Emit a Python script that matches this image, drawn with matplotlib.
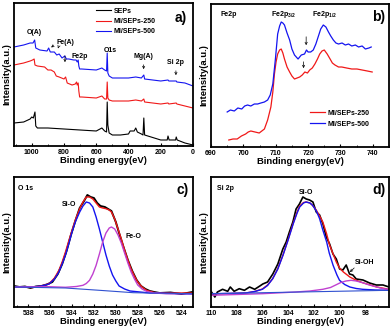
import matplotlib
matplotlib.use('Agg')
import matplotlib.pyplot as plt
from matplotlib.ticker import MultipleLocator

plt.rcParams['font.family'] = ['Liberation Sans', 'DejaVu Sans']
plt.rcParams['font.weight'] = 'bold'
plt.rcParams['mathtext.fontset'] = 'custom'
plt.rcParams['mathtext.bf'] = 'Liberation Sans:bold'
plt.rcParams['mathtext.rm'] = 'Liberation Sans:bold'
plt.rcParams['mathtext.default'] = 'bf'

# ---- panel a: survey spectra ----
sep_e = [1110, 1050, 1010, 1000, 990, 980, 975, 965, 900, 800, 700, 600, 565, 548, 536, 532, 528,
         520, 500, 450, 400, 390, 365, 355, 345, 320, 310, 305, 300, 280, 200, 160, 155, 148, 108,
         104, 98, 50, 0]
sep_i = [23, 24, 27, 29, 28, 34, 20, 18, 18, 17, 16, 15, 18, 15, 14, 44, 21,
         13, 11, 11, 12, 15, 15, 18, 14, 12, 11, 28, 11, 10, 6, 6, 10, 6, 6,
         9, 6, 3, 1]
mi250_e = [1110, 1050, 1010, 995, 985, 980, 965, 920, 900, 880, 860, 848, 830, 800, 790, 780, 750,
           730, 722, 718, 712, 708, 703, 690, 600, 565, 548, 536, 532, 528, 520, 500, 400, 355,
           320, 305, 300, 200, 155, 150, 104, 100, 50, 0]
mi250_i = [81, 83, 85, 86, 87, 81, 80, 79, 76, 76, 74, 70, 69, 67, 69, 63, 61,
           62, 64, 61, 63, 55, 49, 49, 48, 50, 47, 47, 64, 48, 46, 45, 45, 46,
           45, 47, 44, 42, 43, 42, 43, 42, 40, 38]
mi500_e = [1110, 1050, 1010, 992, 982, 975, 950, 905, 895, 885, 860, 845, 830, 812, 795, 785, 770,
           740, 725, 718, 712, 708, 703, 690, 600, 565, 548, 536, 532, 528, 520, 500, 400, 355,
           320, 305, 300, 200, 155, 150, 104, 100, 50, 0]
mi500_i = [99, 101, 103, 103, 106, 98, 96, 95, 98, 94, 94, 91, 92, 88, 90, 87, 87,
           86, 86, 84, 86, 80, 77, 77, 76, 78, 76, 75, 93, 73, 70, 68, 68, 69,
           68, 71, 67, 65, 66, 65, 65, 64, 63, 60]

# ---- panel b: Fe 2p ----
fe500_e = [695.0, 696.0, 697.2, 698.3, 699.5, 700.4, 701.3, 702.3, 703.4, 704.4, 705.4, 706.5, 707.5,
           708.3, 709.1, 709.9, 710.6, 711.2, 711.7, 712.2, 712.7, 713.5, 714.3, 715.0, 715.8,
           716.9, 717.9, 718.9, 719.5, 720.0, 720.8, 721.6, 722.4, 723.1, 723.9, 724.7, 725.5,
           726.3, 727.0, 727.8, 728.6, 729.4, 730.5, 731.5, 732.5, 733.5, 734.6, 735.6, 736.7,
           737.7, 738.8, 739.5]
fe500_i = [35, 37, 36, 39, 38, 41, 42, 41, 43, 43, 44, 45, 47,
           52, 63, 88, 113, 121, 125, 124, 122, 114, 107, 98, 92,
           88, 92, 93, 97, 95, 95, 97, 103, 110, 118, 122, 120,
           115, 111, 107, 104, 103, 104, 102, 103, 101, 102, 100, 101,
           98, 99, 100]
fe250_e = [695.5, 696.8, 698.1, 699.4, 700.7, 701.5, 702.3, 703.6, 704.9, 705.7, 706.5, 707.5, 708.5,
           709.1, 709.6, 710.1, 710.6, 711.2, 711.7, 712.2, 712.7, 713.5, 714.3, 715.0, 715.8,
           716.6, 717.4, 718.2, 719.0, 719.8, 720.5, 721.3, 722.1, 722.9, 723.6, 724.3, 725.0,
           725.9, 726.8, 727.5, 728.3, 729.4, 730.4, 731.9, 733.5, 735.1, 736.7, 738.3, 739.8]
fe250_i = [7, 8, 8, 11, 13, 15, 16, 15, 14, 16, 18, 27, 40,
           55, 73, 85, 93, 97, 98, 94, 88, 80, 75, 71, 68,
           69, 70, 72, 75, 74, 77, 79, 83, 88, 93, 96, 97,
           93, 88, 84, 82, 80, 80, 79, 78, 78, 77, 76, 75]

# ---- panel c: O 1s ----
o1s_raw_e = [539.3, 538.8, 538.3, 537.8, 537.3, 536.8, 536.3, 535.8, 535.3, 534.9, 534.5, 534.1,
             533.7, 533.3, 532.9, 532.6, 532.3, 532.0, 531.7, 531.4, 531.0, 530.7, 530.4, 530.0,
             529.7, 529.3, 528.9, 528.5, 528.1, 527.7, 527.3, 526.9, 526.5, 526.0, 525.0, 524.0,
             523.0]
o1s_raw_i = [21, 20, 20.5, 19, 20.5, 21, 22.5, 25, 33, 43, 56, 72,
             86, 99, 106, 112, 110, 109, 104, 101, 100, 98, 96, 85,
             74, 60, 47, 36, 27, 21, 18, 16, 15, 14, 14.5, 13,
             15]
o1s_fit_e = [539.3, 537.6, 536.8, 536.1, 535.6, 535.2, 534.9, 534.6, 534.3, 534.0, 533.7, 533.3,
             533.0, 532.7, 532.4, 532.1, 531.8, 531.5, 531.2, 530.9, 530.6, 530.4, 530.1, 529.8,
             529.5, 529.2, 528.9, 528.6, 528.3, 528.0, 527.6, 527.2, 526.5, 526.0, 523.0]
o1s_fit_i = [20, 19.5, 21, 23.3, 29, 36.7, 45, 55, 66, 76.7, 87, 98.3,
             105, 110, 110, 108, 104, 100, 99, 98.3, 97, 95, 88, 78,
             68, 57, 47, 38, 31, 25, 20, 16.7, 14.5, 14, 14]
sio_c_e = [539.3, 538.5, 537.6, 536.8, 536.1, 535.6, 535.2, 534.9, 534.6, 534.3, 534.0, 533.7,
           533.3, 533.0, 532.7, 532.4, 532.1, 531.8, 531.5, 531.2, 530.9, 530.6, 530.3, 530.0,
           529.7, 529.2, 528.7, 527.8, 526.9, 525.0, 523.0]
sio_c_i = [20, 20, 20, 21, 23, 28, 35, 43, 52, 63, 75, 85,
           95, 101, 105, 104, 100, 90, 78, 65, 52, 41, 32, 26,
           21, 18, 16, 15, 14, 13.5, 13]
feo_e = [539.3, 536.1, 534.6, 533.6, 533.0, 532.7, 532.4, 532.1, 531.8, 531.5, 531.2, 530.9,
         530.6, 530.4, 530.1, 529.8, 529.5, 529.2, 528.9, 528.6, 528.3, 528.0, 527.6, 527.2,
         526.5, 525.4, 523.0]
feo_i = [20, 20.3, 19.7, 20.5, 21.7, 23.5, 26.7, 33, 41.7, 53, 65, 74,
         79, 80, 78, 72, 64, 54, 44, 35, 28, 22, 18, 15.7,
         14, 13.3, 13.3]
bg_c_e = [539.3, 534.6, 531.5, 528.4, 523.0]
bg_c_i = [20, 19, 16.7, 14.3, 13.3]

# ---- panel d: Si 2p ----
si_raw_e = [110.0, 109.7, 109.5, 109.1, 108.7, 108.5, 108.2, 107.8, 107.4, 107.0, 106.6, 106.2,
            105.97, 105.6, 105.19, 104.8, 104.41, 104.15, 103.9, 103.63, 103.38, 103.12, 102.85,
            102.59, 102.33, 102.07, 101.81, 101.55, 101.29, 101.03, 100.77, 100.51, 100.25, 99.99,
            99.74, 99.48, 99.22, 98.96, 98.70, 98.18, 97.66, 97.14, 96.62, 96.15]
si_raw_i = [15.7, 10, 15, 17.7, 15.7, 20, 15.7, 18.3, 16.7, 20, 17.7, 21,
            23, 25, 33, 43, 58, 65, 75, 85, 98, 103, 110,
            108, 107, 105, 95, 92, 83, 70, 63, 53, 48, 38,
            37, 42, 33, 32, 28, 27, 24, 22, 22, 20]
si_fit_e = [110.0, 108.5, 107.3, 106.6, 106.0, 105.6, 105.2, 104.8, 104.4, 104.0, 103.6, 103.3,
            103.1, 102.8, 102.6, 102.3, 102.1, 101.8, 101.55, 101.3, 101.0, 100.8, 100.5, 100.25,
            100.0, 99.7, 99.2, 98.7, 98.2, 97.6, 97.1, 96.15]
si_fit_i = [13, 13.5, 14, 15.5, 18, 22, 28.3, 38.5, 52, 67.5, 84, 95,
            101, 104.5, 105, 104, 101.7, 96.7, 91, 85, 73, 63, 53, 45,
            39, 35, 30, 26.7, 24.3, 22, 20, 17.7]
sio_d_e = [110.0, 108.5, 107.3, 106.6, 106.0, 105.6, 105.2, 104.8, 104.4, 104.0, 103.6, 103.3,
           103.1, 102.8, 102.6, 102.3, 102.1, 101.8, 101.55, 101.3, 101.0, 100.8, 100.5, 100.2,
           100.0, 99.6, 99.2, 98.7, 98.2, 97.2, 96.15]
sio_d_i = [13.3, 13.6, 14, 15.5, 17.7, 21.5, 28.3, 38, 51.7, 67, 83.3, 94,
           100, 104, 105, 104, 101.7, 96, 88.3, 77, 65, 54, 41.7, 32,
           26.7, 22.5, 20, 18.5, 17.7, 17, 16.7]
sioh_e = [110.0, 106.0, 103.4, 102.3, 101.3, 100.7, 100.25, 99.9, 99.5, 99.1, 98.7, 98.2,
          97.8, 97.4, 96.6, 96.15]
sioh_i = [11.7, 13.3, 15, 16, 17.7, 19.5, 22.3, 24.5, 26, 26.7, 26, 24.3,
          22.5, 21, 18.3, 17.7]
bg_d_e = [110.0, 96.15]
bg_d_i = [13.3, 16.7]

RED = '#f01818'
BLUE = '#1414f0'
MAG = '#c040d0'
W, H = 392, 330


def make_ax(fig, left, right, top, bottom):
    ax = fig.add_axes([left / W, 1 - bottom / H, (right - left) / W, (bottom - top) / H])
    for s in ax.spines.values():
        s.set_linewidth(1.3)
    ax.set_yticks([])
    ax.tick_params(axis='x', which='major', direction='in', length=2.5, width=0.8,
                   labelsize=5, pad=2)
    ax.tick_params(axis='x', which='minor', direction='in', length=1.5, width=0.6)
    ax.set_xlabel('Binding energy(eV)', fontsize=6.8, fontweight='bold', labelpad=0)
    ax.set_ylabel('Intensity(a.u.)', fontsize=6.8, fontweight='bold', labelpad=2)
    return ax


fig = plt.figure(figsize=(W / 100, H / 100), dpi=100)

# panel a
ax = make_ax(fig, 14, 193, 3, 146)
ax.plot(sep_e, sep_i, color='black', lw=0.8, label='SEPs')
ax.plot(mi250_e, mi250_i, color=RED, lw=0.8, label='MI/SEPs-250')
ax.plot(mi500_e, mi500_i, color=BLUE, lw=0.8, label='MI/SEPs-500')
ax.set_xlim(1110, 0)
ax.set_ylim(0, 143)
ax.xaxis.set_major_locator(MultipleLocator(200))
ax.xaxis.set_minor_locator(MultipleLocator(100))
ax.legend(loc='upper left', bbox_to_anchor=(0.43, 1.0), frameon=False, fontsize=5,
          handlelength=2.2, labelspacing=0.45, borderaxespad=0.3, handletextpad=0.4)
ax.text(74, 128, 'a)', fontsize=10, fontweight='bold', ha='center', va='center')
ax.text(981, 113, 'O(A)', fontsize=5, ha='center', va='center')
ax.text(794, 104, 'Fe(A)', fontsize=5, ha='center', va='center')
ax.text(700, 89, 'Fe2p', fontsize=5, ha='center', va='center')
ax.text(512, 95, 'O1s', fontsize=5, ha='center', va='center')
ax.text(306, 89, 'Mg(A)', fontsize=5, ha='center', va='center')
ax.text(106, 84, 'Si 2p', fontsize=5, ha='center', va='center')
ap = dict(arrowstyle='->', lw=0.5, color='black', mutation_scale=4)
ax.annotate('', xy=(894, 97), xytext=(850, 102), arrowprops=ap)
ax.annotate('', xy=(843, 95), xytext=(830, 101), arrowprops=ap)
ax.annotate('', xy=(794, 81), xytext=(794, 93), arrowprops=ap)
ax.annotate('', xy=(306, 74), xytext=(306, 84), arrowprops=ap)
ax.annotate('', xy=(106, 68), xytext=(106, 78), arrowprops=ap)

# panel b
ax = make_ax(fig, 211, 389, 4, 147)
ax.plot(fe250_e, fe250_i, color=RED, lw=0.9, label='MI/SEPs-250')
ax.plot(fe500_e, fe500_i, color=BLUE, lw=0.9, label='MI/SEPs-500')
ax.set_xlim(690, 745)
ax.set_ylim(0, 143)
ax.xaxis.set_major_locator(MultipleLocator(10))
ax.xaxis.set_minor_locator(MultipleLocator(5))
ax.legend(loc='upper left', bbox_to_anchor=(0.54, 0.28), frameon=False, fontsize=5,
          handlelength=2.2, labelspacing=0.6, borderaxespad=0.0, handletextpad=0.4)
ax.text(693, 133, 'Fe2p', fontsize=5, ha='left', va='center')
ax.text(712.3, 132, r'Fe2p$_{3/2}$', fontsize=5, ha='center', va='center')
ax.text(725, 132, r'Fe2p$_{1/2}$', fontsize=5, ha='center', va='center')
ax.text(741.7, 130, 'b)', fontsize=10, fontweight='bold', ha='center', va='center')
ax.annotate('', xy=(719.4, 99), xytext=(719.4, 113), arrowprops=ap)
ax.annotate('', xy=(718.6, 76), xytext=(718.6, 88), arrowprops=ap)

# panel c
ax = make_ax(fig, 14, 193, 177, 307)
ax.plot(o1s_raw_e, o1s_raw_i, color='black', lw=1.4)
ax.plot(o1s_fit_e, o1s_fit_i, color=RED, lw=1.0)
ax.plot(sio_c_e, sio_c_i, color=BLUE, lw=1.0)
ax.plot(feo_e, feo_i, color=MAG, lw=1.0)
ax.plot(bg_c_e, bg_c_i, color='#3050d0', lw=0.8)
ax.set_xlim(539.3, 522.95)
ax.set_ylim(0, 130)
ax.xaxis.set_major_locator(MultipleLocator(2))
ax.xaxis.set_minor_locator(MultipleLocator(1))
ax.text(538.9, 119, 'O 1s', fontsize=5, ha='left', va='center')
ax.text(534.3, 103, 'Si-O', fontsize=5, ha='center', va='center')
ax.text(528.4, 71, 'Fe-O', fontsize=5, ha='center', va='center')
ax.text(523.9, 117, 'c)', fontsize=10, fontweight='bold', ha='center', va='center')

# panel d
ax = make_ax(fig, 211, 389, 177, 307)
ax.plot(si_raw_e, si_raw_i, color='black', lw=1.2)
ax.plot(si_fit_e, si_fit_i, color=RED, lw=1.0)
ax.plot(sio_d_e, sio_d_i, color=BLUE, lw=1.0)
ax.plot(sioh_e, sioh_i, color=MAG, lw=1.0)
ax.plot(bg_d_e, bg_d_i, color='#3050d0', lw=0.8)
ax.set_xlim(110, 96.15)
ax.set_ylim(0, 130)
ax.xaxis.set_major_locator(MultipleLocator(2))
ax.xaxis.set_minor_locator(MultipleLocator(1))
ax.text(109.5, 119, 'Si 2p', fontsize=5, ha='left', va='center')
ax.text(102.6, 114, 'Si-O', fontsize=5, ha='center', va='center')
ax.text(98.05, 44, 'Si-OH', fontsize=5, ha='center', va='center')
ax.annotate('', xy=(99.35, 33), xytext=(98.7, 41), arrowprops=ap)
ax.text(96.95, 117, 'd)', fontsize=10, fontweight='bold', ha='center', va='center')

fig.savefig('out.png', dpi=100)
